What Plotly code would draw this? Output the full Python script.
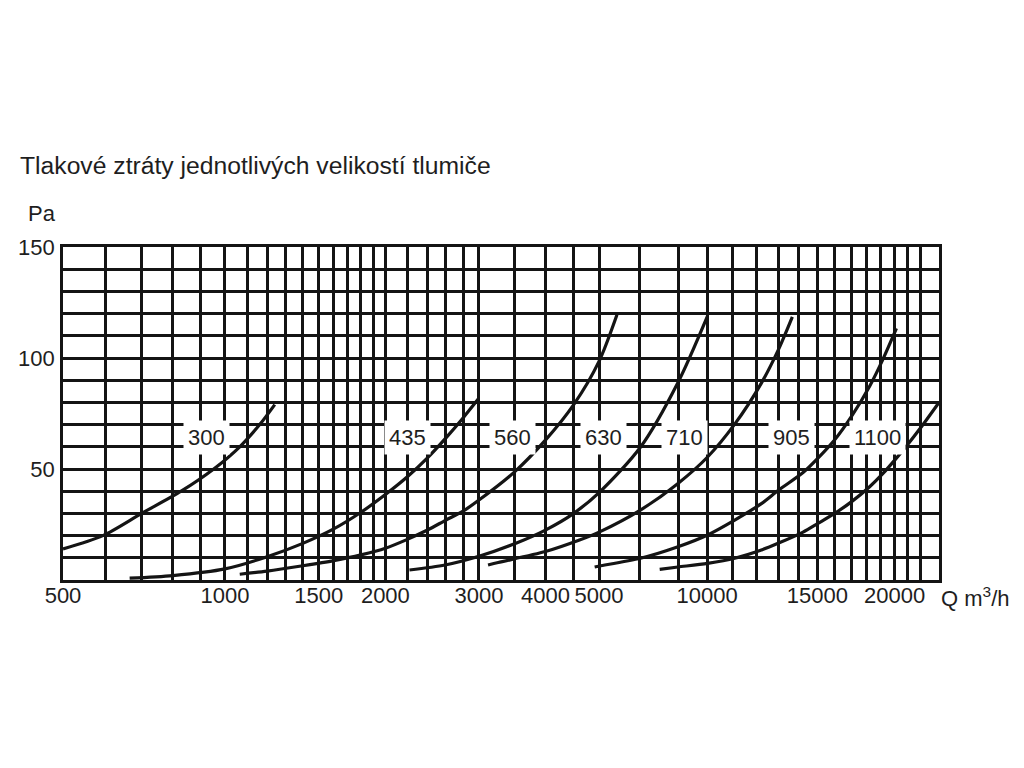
import numpy as np
import plotly.graph_objects as go

# ---- Non-uniform logarithmic Q axis of the original chart ----
SCALE_Q = [500, 1000, 2000, 4000, 5000, 10000, 15000, 20000, 23585]
SCALE_U = [0.0, 0.1849, 0.3680, 0.5507, 0.6119, 0.7352, 0.8612, 0.9494, 1.0]


def qpos(q):
    return np.interp(np.log(np.asarray(q, dtype=float)), np.log(SCALE_Q), SCALE_U)


# grid lines (Q values) and labelled ticks
Q_GRID = [500, 600, 700, 800, 900, 1000, 1100, 1200, 1300, 1400, 1500, 1600, 1700,
          1800, 1900, 2000, 2200, 2400, 2600, 2800, 3000, 3500, 4000, 4500, 5000,
          6500, 8300, 10000, 11000, 12000, 13000, 14000, 15000, 16000, 17000,
          18000, 19000, 20000, 21000, 22000, 23585]
Q_LABELS = [500, 1000, 1500, 2000, 3000, 4000, 5000, 10000, 15000, 20000]
PA_GRID = list(range(0, 151, 10))
PA_LABELS = [50, 100, 150]

# ---- curves: pressure loss [Pa] vs air flow Q [m3/h] ----
sizes = ["300", "435", "560", "630", "710", "905", "1100"]

q_300 = [500, 593, 700, 829, 953, 1066, 1162, 1240]
pa_300 = [14, 20, 30, 40, 50, 60, 70, 79]

q_435 = [665, 800, 1000, 1200, 1400, 1600, 1800, 2000, 2200, 2400, 2600, 2800, 2990]
pa_435 = [0.8, 2, 5, 10.5, 16.5, 23, 30.5, 38.5, 46.5, 55, 64, 73, 81.5]

q_560 = [1066, 1200, 1400, 1600, 1800, 2000, 2200, 2400, 2600, 2800, 3000, 3500,
         4000, 4500, 5000, 5610]
pa_560 = [2.6, 4, 6.4, 8.7, 11.3, 14.3, 18.3, 22.5, 27, 31, 36, 48.7, 63, 79, 98.5, 119.5]

q_630 = [2220, 2590, 3010, 3530, 4000, 4480, 5020, 6520, 8300, 10020]
pa_630 = [4.5, 6.75, 10.8, 16.7, 22.5, 29.7, 39.6, 59.8, 89, 119]

q_710 = [3120, 3260, 4000, 4610, 5020, 6520, 8300, 10020, 11070, 12210, 13010, 13680]
pa_710 = [6.75, 7.9, 12.8, 18, 21.7, 31.5, 43.5, 55.4, 70.2, 88.7, 104, 118.5]

q_905 = [4910, 5020, 6520, 8300, 10020, 11070, 12210, 13010, 14230, 15030, 16000,
         17020, 18220, 19150, 20130]
pa_905 = [5.85, 6.3, 9.8, 15, 20.3, 27, 34.4, 40.5, 48.4, 54.9, 63.2, 73.6, 87.3,
          99.5, 113.3]

q_1100 = [7380, 8300, 10020, 11070, 12210, 13010, 14230, 15030, 16000, 17020, 18220,
          19150, 20130, 21010, 21950, 23585]
pa_1100 = [4.8, 5.85, 7.5, 9.8, 13.5, 16.65, 21.6, 25.5, 30, 35.2, 42, 48, 54.9,
           61.2, 68, 80]

curves = [(q_300, pa_300), (q_435, pa_435), (q_560, pa_560), (q_630, pa_630),
          (q_710, pa_710), (q_905, pa_905), (q_1100, pa_1100)]

# curve label anchors (Q, Pa)
label_q = [925, 2200, 3470, 5150, 8670, 13630, 18770]
label_pa = [64, 64, 64, 64, 64, 64, 64]

FONT = "Liberation Sans, Arial, Helvetica, sans-serif"
INK = "#141414"
TXT = "#1e1e1e"

fig = go.Figure()
for name, (q, pa) in zip(sizes, curves):
    fig.add_trace(go.Scatter(
        x=qpos(q), y=pa, mode="lines", name=name,
        line=dict(color=INK, width=3.2, shape="spline", smoothing=0.8),
        hoverinfo="skip"))

for name, lq, lp in zip(sizes, label_q, label_pa):
    fig.add_annotation(x=float(qpos(lq)), y=lp, text=name, showarrow=False,
                       xanchor="center", yanchor="middle",
                       bgcolor="white", borderpad=4,
                       font=dict(family=FONT, size=22, color=TXT))

x_tickvals = [float(v) for v in qpos(Q_GRID)]
x_ticktext = [str(q) if q in Q_LABELS else " " for q in Q_GRID]
y_ticktext = [str(p) if p in PA_LABELS else " " for p in PA_GRID]

# the page body adds an 8 px offset, so the figure is 1008 x 752
fig.update_layout(
    width=1008, height=752,
    margin=dict(l=55, r=77, t=239, b=180, autoexpand=False),
    paper_bgcolor="white", plot_bgcolor="white",
    showlegend=False,
    font=dict(family=FONT, size=22, color=TXT),
    title=dict(text="Tlakové ztráty jednotlivých velikostí tlumiče",
               x=12 / 1008, xanchor="left", xref="container",
               y=1 - 157 / 752, yanchor="middle", yref="container",
               font=dict(family=FONT, size=24.7, color=TXT)),
    xaxis=dict(range=[0, 1], tickmode="array", tickvals=x_tickvals,
               ticktext=x_ticktext, showgrid=True, gridcolor=INK, gridwidth=2.6,
               showline=True, mirror=True, linecolor=INK, linewidth=2.6,
               zeroline=False, ticks="", ticklabelstandoff=-6, tickangle=0,
               tickfont=dict(family=FONT, size=22, color=TXT)),
    yaxis=dict(range=[0, 150], tickmode="array", tickvals=PA_GRID,
               ticktext=y_ticktext, showgrid=True, gridcolor=INK, gridwidth=2.6,
               showline=True, mirror=True, linecolor=INK, linewidth=2.6,
               zeroline=False, ticks="", ticklabelstandoff=1,
               tickfont=dict(family=FONT, size=22, color=TXT)),
)

fig.add_annotation(xref="paper", yref="paper", x=(42 - 63.3) / 876,
                   y=(580 - 213) / 333.3, text="Pa", showarrow=False,
                   xanchor="center", yanchor="middle",
                   font=dict(family=FONT, size=22, color=TXT))
fig.add_annotation(xref="paper", yref="paper", x=(975.5 - 63.3) / 876,
                   y=(580 - 597) / 333.3, text="Q m<sup>3</sup>/h", showarrow=False,
                   xanchor="center", yanchor="middle",
                   font=dict(family=FONT, size=22, color=TXT))

fig.write_html("out.html")
